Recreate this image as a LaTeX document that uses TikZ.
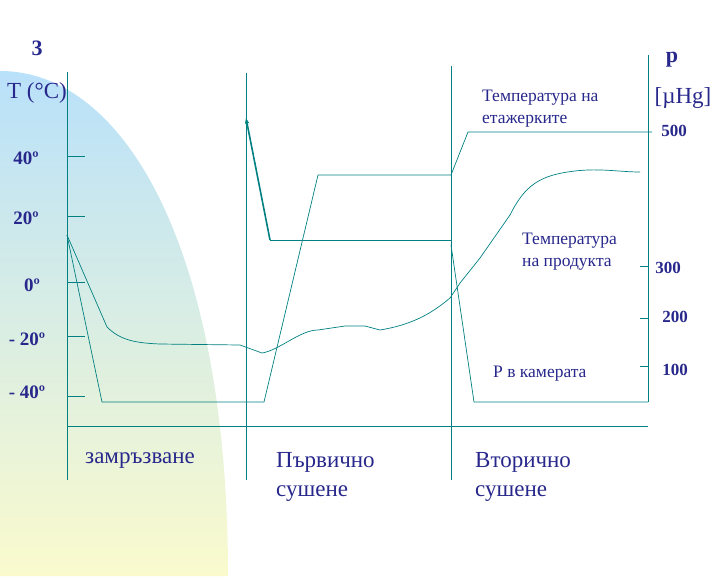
\documentclass[tikz,border=0pt]{standalone}
\usepackage{fontspec}
\setmainfont{Liberation Serif}
\usetikzlibrary{arrows.meta}
\definecolor{ln}{RGB}{0,128,128}
\definecolor{tx}{RGB}{40,40,140}
\definecolor{sky}{RGB}{185,225,250}
\definecolor{lem}{RGB}{250,250,205}
\tikzset{ax/.style={draw=ln,line width=0.8pt},cv/.style={draw=ln,line width=0.7pt},
lab/.style={text=tx,font=\fontsize{19}{19}\selectfont\bfseries,inner sep=0pt},
txt/.style={text=tx,font=\fontsize{17.5}{22}\selectfont,inner sep=0pt,align=left,anchor=north west},
big/.style={text=tx,font=\fontsize{23}{29}\selectfont,inner sep=0pt,align=left,anchor=north west}}
\begin{document}
\begin{tikzpicture}[x=1pt,y=-1pt]
\useasboundingbox (0,0) rectangle (720,576);
\shade[top color=sky, bottom color=lem] (0,576) -- (0,71) .. controls (125,71) and (228,250) .. (228,576) -- cycle;
% axes
\draw[ax] (67,72) -- (67,480);
\draw[ax] (246,73) -- (246,480);
\draw[ax] (451,66) -- (451,480);
\draw[ax] (67,426) -- (648,426);
\draw[ax] (648,55) -- (648,402);
\foreach \y in {156,216,282,336,396} \draw[ax] (67,\y) -- (85,\y);
\foreach \y in {266,318,366} \draw[ax] (640,\y) -- (648,\y);
% shelf temperature
\draw[cv] (67,235) -- (102,402) -- (264,402) -- (318,175) -- (451,175) -- (468,132) -- (652,132);
% product temperature
\draw[cv] (67,235) -- (107,327) .. controls (120,340) and (135,343) .. (160,344) -- (240,345) -- (262,353) .. controls (280,350) and (300,330) .. (318,330) -- (345,326) -- (365,326) -- (380,330) .. controls (410,325) and (430,315) .. (450,298) -- (460,283) -- (480,258) -- (510,215) .. controls (525,185) and (540,175) .. (575,171) .. controls (600,168) and (620,172) .. (640,172);
% pressure
\coordinate (pk) at (270,240);
\coordinate (top) at (246,118);
\draw[ln,line width=1.6pt,-{Stealth[length=6pt]}] (pk) -- (top);
\draw[cv] (pk) -- (451,240);
\draw[cv] (451,245) -- (474,402) -- (648,402);
% labels
\node[lab,font=\fontsize{22}{22}\selectfont\bfseries] (n3) at (37,48) {3};
\node[big,anchor=center] (tc) at (37,93) {T (°C)};
\node[lab,font=\fontsize{22}{22}\selectfont\bfseries] (np) at (672,60) {p};
\node[big,anchor=center] (mhg) at (683,98) {[µHg]};
\node[lab] (l40) at (26,158) {40º};
\node[lab] (l20) at (26,218) {20º};
\node[lab] (l0) at (32,285) {0º};
\node[lab] (lm20) at (27,339) {- 20º};
\node[lab] (lm40) at (27,392) {- 40º};
\node[lab,font=\fontsize{17}{17}\selectfont\bfseries] (r500) at (674,131) {500};
\node[lab,font=\fontsize{17}{17}\selectfont\bfseries] (r300) at (668,268) {300};
\node[lab,font=\fontsize{17}{17}\selectfont\bfseries] (r200) at (675,317) {200};
\node[lab,font=\fontsize{17}{17}\selectfont\bfseries] (r100) at (675,370) {100};
\node[txt] (ts) at (482,90) {Температура на\\етажерките};
\node[txt] (tp) at (522,233) {Температура\\на продукта};
\node[txt] (pc) at (493,366) {P в камерата};
\node[big] (z) at (85,452) {замръзване};
\node[big] (ps) at (276,452) {Първично\\сушене};
\node[big] (vs) at (475,452) {Вторично\\сушене};
\end{tikzpicture}
\end{document}
